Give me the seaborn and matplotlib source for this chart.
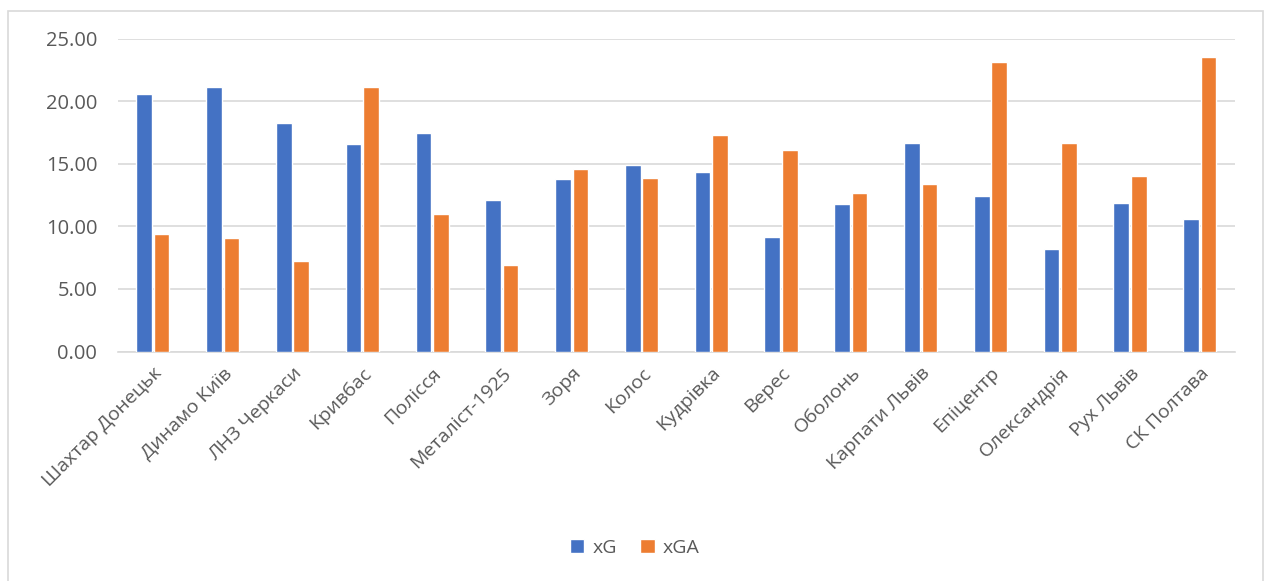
import matplotlib.pyplot as plt
import matplotlib.patches as mpatches
import pandas as pd
import seaborn as sns

teams = ['Шахтар Донецьк', 'Динамо Київ', 'ЛНЗ Черкаси', 'Кривбас', 'Полісся',
         'Металіст-1925', 'Зоря', 'Колос', 'Кудрівка', 'Верес', 'Оболонь',
         'Карпати Львів', 'Епіцентр', 'Олександрія', 'Рух Львів', 'СК Полтава']
xg = [20.63, 21.19, 18.31, 16.57, 17.48, 12.12, 13.80, 14.89,
      14.33, 9.18, 11.82, 16.68, 12.44, 8.22, 11.90, 10.60]
xga = [9.39, 9.10, 7.21, 21.19, 11.00, 6.89, 14.57, 13.90,
       17.29, 16.12, 12.68, 13.40, 23.19, 16.68, 14.04, 23.59]
yticks = [0, 5, 10, 15, 20, 25]

colors = {'xG': '#4472C4', 'xGA': '#ED7D31'}
text_color = '#595959'
grid_color = '#D9D9D9'

df = pd.DataFrame({'team': teams, 'xG': xg, 'xGA': xga})
long_df = df.melt(id_vars='team', var_name='metric', value_name='value')

sns.set_style('white')
plt.rcParams['font.family'] = ['Open Sans', 'DejaVu Sans']

fig = plt.figure(figsize=(12.69, 5.81), dpi=100)
ax = fig.add_axes([0.093, 0.395, 0.880, 0.538])

sns.barplot(
    data=long_df,
    x='team',
    y='value',
    hue='metric',
    palette=colors,
    saturation=1,
    width=0.5,
    gap=0.1,
    errorbar=None,
    ax=ax,
    zorder=3
)

ax.set_ylim(0, 25)
ax.set_yticks(yticks)
ax.set_yticklabels([f'{v:.2f}' for v in yticks], fontsize=14.5, color=text_color)
ax.set_xlim(-0.5, len(teams) - 0.5)
ax.set_xticks(range(len(teams)))
ax.set_xticklabels(teams, rotation=45, ha='right', rotation_mode='anchor',
                   fontsize=14, color=text_color)
ax.tick_params(axis='x', length=0, pad=9)
ax.tick_params(axis='y', length=0, pad=15)
ax.set_xlabel('')
ax.set_ylabel('')

ax.grid(axis='y', color=grid_color, linewidth=1.2, zorder=0)
ax.set_axisbelow(True)
for side in ['left', 'right', 'top']:
    ax.spines[side].set_visible(False)
ax.spines['bottom'].set_color(grid_color)
ax.spines['bottom'].set_linewidth(1.2)

handles, labels = ax.get_legend_handles_labels()
ax.legend_.remove()
fig.legend(handles, labels, loc='center', bbox_to_anchor=(0.5, 0.057), ncol=2,
           frameon=False, fontsize=14, labelcolor=text_color,
           handlelength=0.75, handleheight=0.75, handletextpad=0.4, columnspacing=1.2)

# outer chart border
border = mpatches.Rectangle((8 / 1269, -0.05), 1255 / 1269, 1.05 - 11 / 581,
                            transform=fig.transFigure, fill=False,
                            edgecolor=grid_color, linewidth=1.2)
fig.patches.append(border)

fig.savefig('out.png', dpi=100)
